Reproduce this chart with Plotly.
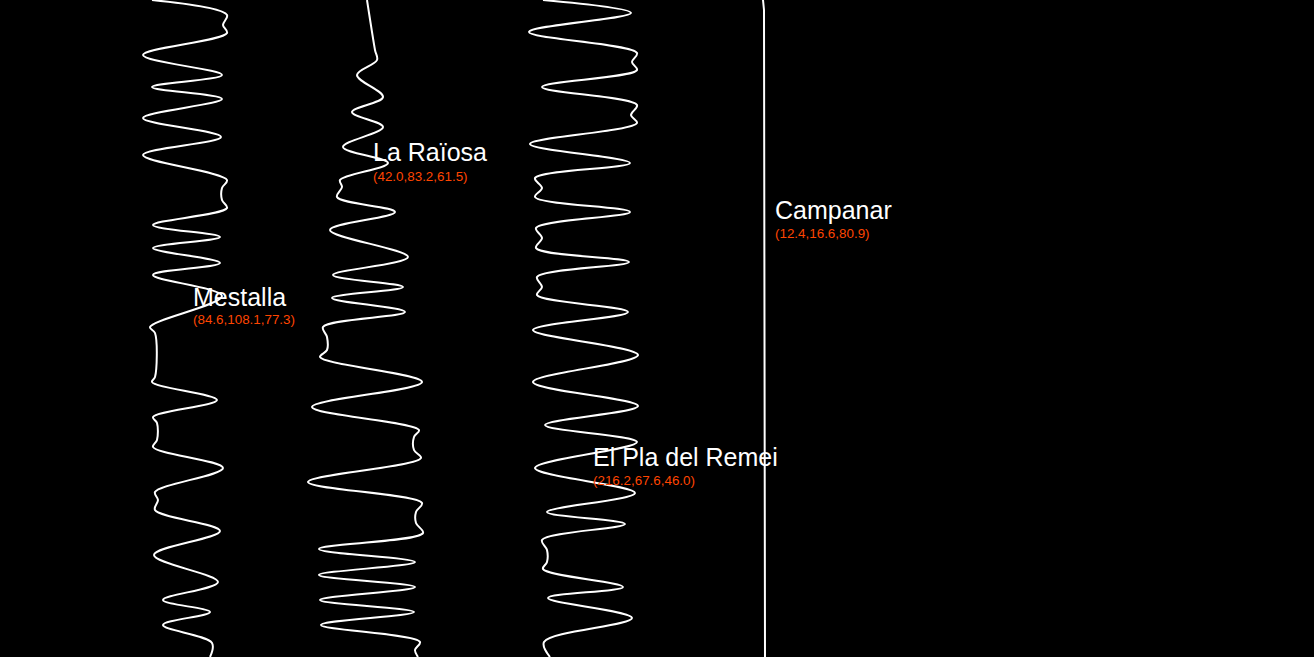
import plotly.graph_objects as go

# ---- data (y = position down the page, x = value position) ----
names = ["Mestalla", "La Raïosa", "El Pla del Remei", "Campanar"]
triplets = ["(84.6,108.1,77.3)", "(42.0,83.2,61.5)", "(216.2,67.6,46.0)", "(12.4,16.6,80.9)"]

mestalla_y = [0, 15, 25, 33, 55, 75, 87, 99, 118, 137, 155, 180, 188, 200, 208, 225, 237, 248, 263, 275,
              296, 327, 333, 377, 382, 400, 417, 423, 440, 447, 468, 492, 500, 510, 531, 555, 582, 600,
              612, 625, 643, 657]
mestalla_x = [152, 227, 223, 227, 143, 222, 152, 222, 143, 221, 143, 227, 222, 222, 227, 153, 220, 153, 220, 153,
              222, 150, 155, 155, 152, 217, 153, 157, 157, 153, 223, 155, 158, 155, 220, 154, 218, 163,
              210, 163, 212, 210]

raiosa_y = [0, 50, 60, 75, 97, 112, 127, 147, 163, 180, 187, 197, 212, 230, 257, 275, 287, 298, 312, 327,
            337, 350, 357, 382, 407, 430, 437, 450, 458, 482, 503, 512, 523, 533, 549, 562, 575, 587,
            600, 612, 625, 642, 650, 657]
raiosa_x = [367, 375, 377, 357, 383, 352, 383, 343, 388, 340, 342, 337, 395, 330, 408, 333, 403, 332, 405, 323,
            327, 327, 320, 422, 312, 419, 414, 414, 421, 308, 422, 416, 416, 423, 319, 415, 319, 415,
            320, 414, 321, 420, 415, 418]

remei_y = [0, 13, 32, 53, 62, 70, 87, 105, 115, 123, 144, 163, 178, 188, 197, 212, 228, 238, 248, 262,
           277, 287, 295, 312, 330, 355, 382, 406, 425, 442, 468, 493, 512, 524, 540, 550, 562, 569,
           587, 598, 618, 642, 657]
remei_x = [543, 631, 529, 637, 632, 637, 542, 637, 631, 637, 530, 630, 535, 542, 535, 630, 536, 542, 536, 629,
           537, 542, 537, 628, 533, 638, 533, 638, 545, 637, 535, 635, 547, 625, 542, 547, 547, 543,
           623, 548, 632, 544, 550]

campanar_y = [0, 10, 657]
campanar_x = [763, 764, 765]

series_x = [mestalla_x, raiosa_x, remei_x, campanar_x]
series_y = [mestalla_y, raiosa_y, remei_y, campanar_y]
series_shape = ["spline", "spline", "spline", "linear"]

# label placement (layout, not data)
label_pos = [(191, 297, 319), (371, 152, 176), (591, 457, 480), (773, 210, 233)]

fig = go.Figure()
for nm, xs, ys, shp in zip(names, series_x, series_y, series_shape):
    line = dict(color="white", width=2, shape=shp)
    if shp == "spline":
        line["smoothing"] = 1
    fig.add_trace(go.Scatter(x=xs, y=ys, mode="lines", name=nm, line=line,
                             hoverinfo="skip", showlegend=False))

annotations = []
for nm, tr, (lx, ly1, ly2) in zip(names, triplets, label_pos):
    annotations.append(dict(x=lx, y=ly1, xref="x", yref="y", text=nm, showarrow=False,
                            xanchor="left", yanchor="middle",
                            font=dict(family="Liberation Sans, Arial", size=25, color="white")))
    annotations.append(dict(x=lx, y=ly2, xref="x", yref="y", text=tr, showarrow=False,
                            xanchor="left", yanchor="middle",
                            font=dict(family="Liberation Sans, Arial", size=13.4, color="#ff4500")))

fig.update_layout(
    width=1314, height=657,
    margin=dict(l=0, r=0, t=0, b=0),
    paper_bgcolor="black", plot_bgcolor="black",
    xaxis=dict(range=[0, 1314], visible=False, fixedrange=True),
    yaxis=dict(range=[657, 0], visible=False, fixedrange=True),
    annotations=annotations,
    showlegend=False,
)

fig.write_html("out.html")
